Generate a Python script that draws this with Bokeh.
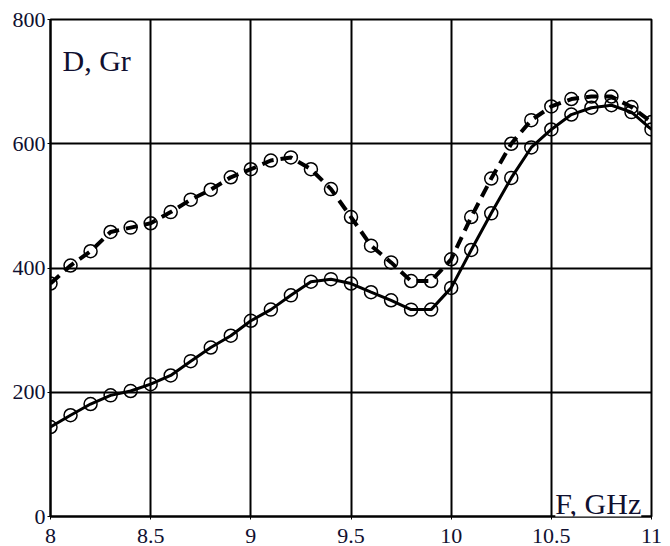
from bokeh.plotting import figure
from bokeh.models import Range1d, FixedTicker, Label
from bokeh.embed import file_html
from bokeh.resources import INLINE

# ---- data ----
freq = [8.0, 8.1, 8.2, 8.3, 8.4, 8.5, 8.6, 8.7, 8.8, 8.9,
        9.0, 9.1, 9.2, 9.3, 9.4, 9.5, 9.6, 9.7, 9.8, 9.9,
        10.0, 10.1, 10.2, 10.3, 10.4, 10.5, 10.6, 10.7, 10.8, 10.9, 11.0]
d_dashed = [375, 404, 427, 458, 465, 472, 490, 510, 526, 546,
            559, 573, 578, 559, 527, 482, 436, 409, 379, 379,
            414, 482, 544, 600, 638, 660, 672, 676, 676, 659, 635]
d_solid = [144, 163, 181, 195, 202, 213, 227, 250, 272, 291,
           315, 333, 356, 378, 382, 375, 361, 348, 333, 333,
           368, 429, 488, 545, 594, 623, 647, 658, 662, 651, 623]
x_ticks = [8, 8.5, 9, 9.5, 10, 10.5, 11]
x_tick_labels = ["8", "8.5", "9", "9.5", "10", "10.5", "11"]
y_ticks = [0, 200, 400, 600, 800]
y_tick_labels = ["0", "200", "400", "600", "800"]
y_title = "D, Gr"
x_title = "F, GHz"

FONT = "Liberation Serif"
TXT = "#101030"

p = figure(width=670, height=546, output_backend="svg", toolbar_location=None,
           x_range=Range1d(8, 11), y_range=Range1d(0, 800),
           min_border_left=50, min_border_right=19, min_border_top=19, min_border_bottom=30)
p.background_fill_color = "white"
p.border_fill_color = "white"
p.outline_line_color = "black"
p.outline_line_width = 2

for ax, ticks, labels in ((p.xaxis, x_ticks, x_tick_labels), (p.yaxis, y_ticks, y_tick_labels)):
    ax.ticker = FixedTicker(ticks=ticks)
    ax.major_label_overrides = {t: l for t, l in zip(ticks, labels)}
    ax.minor_tick_line_color = None
    ax.major_tick_in = 0
    ax.major_tick_out = 3
    ax.major_tick_line_color = "black"
    ax.major_tick_line_width = 1
    ax.axis_line_color = "black"
    ax.axis_line_width = 2
    ax.major_label_text_font = FONT
    ax.major_label_text_font_size = "22px"
    ax.major_label_text_color = TXT

p.xaxis.major_label_standoff = 9
p.yaxis.major_label_standoff = 2

p.xgrid.ticker = FixedTicker(ticks=x_ticks)
p.ygrid.ticker = FixedTicker(ticks=y_ticks)
for g in (p.xgrid, p.ygrid):
    g.grid_line_color = "black"
    g.grid_line_width = 2
    g.grid_line_alpha = 1

# series
p.line(freq, d_dashed, line_color="black", line_width=4, line_dash="12 7")
p.scatter(freq, d_dashed, marker="circle", size=13, fill_alpha=0,
          line_color="black", line_width=1.5)
p.line(freq, d_solid, line_color="black", line_width=3)
p.scatter(freq, d_solid, marker="circle", size=13, fill_alpha=0,
          line_color="black", line_width=1.5)

p.add_layout(Label(x=8.06, y=734, text=y_title, text_font=FONT, text_font_size="30px",
                   text_color=TXT, text_baseline="alphabetic"))
p.add_layout(Label(x=10.52, y=21, text=x_title, text_font=FONT, text_font_size="30px",
                   text_color=TXT, text_baseline="alphabetic",
                   background_fill_color="white"))

open("out.html", "w").write(file_html(p, INLINE))
